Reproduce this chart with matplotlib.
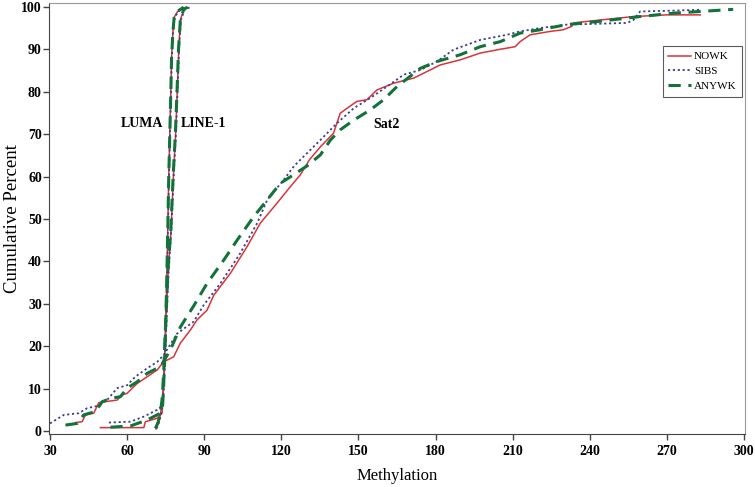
import matplotlib
matplotlib.use("Agg")
import matplotlib.pyplot as plt

plt.rcParams["font.family"] = ["Liberation Serif", "DejaVu Serif"]

groups = ["NOWK", "SIBS", "ANYWK"]

# Sat2 (wide curves)
sat2_nowk_x = [39.9, 42.5, 43.8, 47.0, 49.0, 56.1, 58.1, 60.0, 63.9, 67.8, 71.7, 74.2, 78.1, 80.7,
               84.6, 87.2, 91.1, 93.7, 100.2, 106.7, 111.8, 118.3, 123.5, 127.4, 131.0, 135.2, 140.3,
               142.9, 145.6, 149.4, 153.3, 157.2, 163.7, 171.5, 179.2, 181.8, 189.6, 197.4, 205.2,
               211.0, 212.9, 216.8, 224.6, 229.7, 233.0, 233.7, 244.2, 257.0, 270.0, 283.0]
sat2_nowk_y = [2.0, 2.2, 3.8, 4.2, 6.7, 7.3, 8.5, 8.9, 11.2, 12.8, 14.4, 16.3, 17.5, 20.7,
               23.8, 26.2, 28.5, 32.0, 37.2, 43.5, 49.0, 53.7, 57.6, 60.4, 64.0, 67.0, 70.2,
               74.9, 76.1, 77.7, 78.1, 80.4, 82.0, 83.2, 85.5, 86.3, 87.5, 89.1, 90.0,
               90.6, 91.8, 93.4, 94.2, 94.6, 95.4, 96.2, 96.9, 97.7, 98.1, 98.1]

sat2_sibs_x = [30.0, 35.4, 41.2, 44.5, 48.3, 52.2, 56.1, 60.0, 63.2, 67.8, 71.7, 74.2, 79.5, 85.9,
               89.8, 96.3, 104.0, 110.6, 114.5, 120.9, 125.0, 130.0, 135.2, 141.7, 148.2, 154.6,
               161.1, 167.6, 174.1, 180.5, 187.0, 197.4, 207.7, 212.9, 220.7, 231.0, 254.5, 257.0,
               259.6, 272.5, 282.9]
sat2_sibs_y = [1.8, 3.8, 4.2, 5.4, 5.9, 7.3, 10.1, 10.8, 12.8, 14.8, 16.3, 17.9, 23.0, 25.8,
               29.7, 34.8, 41.9, 49.0, 54.5, 59.2, 62.5, 65.5, 68.6, 72.6, 76.1, 78.5,
               81.2, 84.0, 85.1, 87.1, 89.9, 92.2, 93.4, 94.2, 95.0, 95.8, 96.2, 96.9,
               98.9, 99.1, 99.3]

sat2_anywk_x = [36.0, 40.6, 43.1, 47.7, 50.3, 53.5, 57.4, 60.0, 63.9, 67.8, 73.0, 76.8, 80.7, 85.9,
                91.1, 97.6, 102.8, 109.2, 114.5, 119.6, 125.0, 130.0, 135.2, 139.1, 142.9, 148.2,
                154.6, 159.8, 165.0, 174.1, 180.5, 189.6, 197.4, 205.2, 212.9, 220.7, 231.0, 244.0,
                259.6, 272.5, 282.9, 295.8]
sat2_anywk_y = [1.4, 1.8, 3.8, 4.6, 6.9, 7.7, 8.1, 10.1, 11.6, 13.6, 15.2, 19.1, 24.5, 29.5,
                34.8, 40.3, 45.0, 50.5, 54.5, 58.4, 60.5, 62.5, 65.1, 68.6, 71.0, 73.3,
                75.7, 78.1, 81.2, 85.5, 87.1, 88.7, 90.6, 91.8, 93.8, 94.6, 95.8, 96.6,
                97.7, 98.5, 98.9, 99.4]

# LUMA (left steep curves)
luma_nowk_x = [49.6, 66.5, 67.1, 71.7, 73.6, 74.0, 74.5, 75.0, 75.4, 75.8, 76.2, 76.6, 77.0, 77.3, 77.8, 78.3, 79.5, 81.5]
luma_nowk_y = [0.8, 0.8, 2.2, 3.0, 4.2, 8.0, 15.0, 25.0, 35.0, 47.0, 60.0, 70.0, 80.0, 88.0, 94.0, 97.5, 98.8, 99.6]
luma_sibs_x = [52.9, 61.3, 66.5, 71.7, 73.8, 74.2, 74.6, 75.1, 75.5, 75.9, 76.3, 76.7, 77.1, 77.4, 77.9, 78.5, 80.0, 82.5]
luma_sibs_y = [2.0, 2.2, 3.4, 5.0, 6.0, 10.0, 16.0, 26.0, 36.0, 48.0, 60.0, 70.0, 80.0, 88.0, 94.0, 97.5, 99.0, 99.9]
luma_anywk_x = [53.5, 61.3, 67.8, 72.3, 73.7, 74.1, 74.5, 75.0, 75.4, 75.8, 76.2, 76.6, 77.0, 77.3, 77.8, 78.3, 79.5, 82.0]
luma_anywk_y = [0.9, 1.2, 2.6, 4.0, 5.0, 9.0, 15.0, 25.0, 35.0, 47.0, 60.0, 70.0, 80.0, 88.0, 94.0, 97.5, 98.9, 99.9]

# LINE-1 (right steep curves)
line1_nowk_x = [71.3, 72.2, 73.0, 73.8, 74.4, 75.2, 76.0, 77.1, 78.0, 78.9, 79.5, 80.1, 80.7, 82.0, 83.3]
line1_nowk_y = [0.5, 2.0, 4.0, 8.0, 15.0, 27.0, 38.0, 47.4, 60.0, 70.3, 80.0, 90.0, 96.9, 99.3, 99.9]
line1_sibs_x = [71.5, 72.4, 73.2, 74.0, 74.6, 75.4, 76.2, 77.2, 78.1, 79.0, 79.6, 80.2, 80.9, 82.5, 85.3]
line1_sibs_y = [0.6, 2.0, 4.0, 8.0, 15.0, 27.0, 38.0, 47.4, 60.0, 70.3, 80.0, 90.0, 96.9, 99.5, 100.0]
line1_anywk_x = [71.0, 72.0, 72.9, 73.7, 74.3, 75.1, 75.9, 77.0, 77.9, 78.8, 79.4, 80.0, 80.7, 82.0, 83.5]
line1_anywk_y = [0.6, 2.0, 4.0, 8.0, 15.0, 27.0, 38.0, 47.4, 60.0, 70.3, 80.0, 90.0, 96.9, 99.4, 99.9]

styles = {
    "NOWK": dict(color="#d9343c", ls="-", lw=1.1),
    "SIBS": dict(color="#3e3e8c", ls=(0, (1.2, 1.5)), lw=1.3),
    "ANYWK": dict(color="#13723a", ls=(0, (4, 2.5)), lw=2.2),
}

curves = {
    "NOWK": [(sat2_nowk_x, sat2_nowk_y), (luma_nowk_x, luma_nowk_y), (line1_nowk_x, line1_nowk_y)],
    "SIBS": [(sat2_sibs_x, sat2_sibs_y), (luma_sibs_x, luma_sibs_y), (line1_sibs_x, line1_sibs_y)],
    "ANYWK": [(sat2_anywk_x, sat2_anywk_y), (luma_anywk_x, luma_anywk_y), (line1_anywk_x, line1_anywk_y)],
}

fig = plt.figure(figsize=(7.55, 4.87), dpi=100)
ax = fig.add_axes([49.5 / 755, 53 / 487, 695.5 / 755, 431 / 487])

for g in groups:
    for i, (xs, ys) in enumerate(curves[g]):
        ax.plot(xs, ys, label=g if i == 0 else None, **styles[g])

ax.text(65.6, 72.6, "LUMA", fontsize=10, fontweight="bold", ha="center", va="center")
ax.text(89.7, 72.6, "LINE-1", fontsize=10, fontweight="bold", ha="center", va="center")
ax.text(160.8, 72.2, "Sat2", fontsize=10, fontweight="bold", ha="center", va="center")

ax.set_xlim(29.8, 300.4)
ax.set_ylim(-0.7, 100.9)
ax.set_xticks(range(30, 301, 30))
ax.set_yticks(range(0, 101, 10))
for lab in ax.get_xticklabels() + ax.get_yticklabels():
    lab.set_fontweight("bold")
    lab.set_fontsize(10)
ax.tick_params(direction="out", length=4, width=1, color="#444")
ax.tick_params(axis="x", pad=4)
ax.tick_params(axis="y", pad=1.5)
ax.set_xlabel("Methylation", fontsize=12, labelpad=7)
ax.set_ylabel("Cumulative Percent", fontsize=13.5, labelpad=0)

for s in ["left", "bottom"]:
    ax.spines[s].set_color("#444")
for s in ["top", "right"]:
    ax.spines[s].set_color("#999")

leg = ax.legend(loc="upper right", bbox_to_anchor=(0.996, 0.90), fontsize=8, frameon=True,
                fancybox=False, edgecolor="#333", handlelength=2.0, handletextpad=0.3,
                borderpad=0.5, labelspacing=0.45, borderaxespad=0)
leg.get_frame().set_linewidth(0.8)

fig.savefig("out.png", dpi=100)
